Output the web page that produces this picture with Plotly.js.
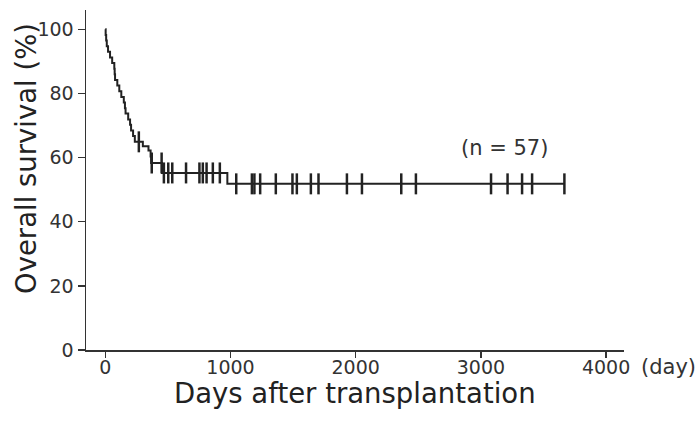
<!DOCTYPE html>
<html>
<head>
<meta charset="utf-8">
<script src="https://cdn.plot.ly/plotly-3.0.1.min.js"></script>
<style>html,body{margin:0;padding:0;background:#fff;}#chart{width:699px;height:435px;}</style>
</head>
<body>
<div id="chart"></div>
<script>
// Kaplan-Meier step curve (days after transplantation, overall survival %)
var stepDays = [0, 3, 7, 12, 22, 38, 55, 72, 75, 78, 96, 112, 128, 148, 157, 162, 183, 198, 206, 222, 236, 300, 345, 362, 366, 453, 975, 3667];
var stepSurv = [100, 98.2, 96.5, 94.7, 93.0, 91.2, 89.5, 87.7, 86.0, 84.2, 82.5, 80.7, 78.9, 77.2, 75.4, 73.7, 71.9, 70.2, 68.4, 66.7, 64.9, 63.5, 62.2, 60.3, 58.3, 55.2, 51.8, 51.8];

// Censored observations (tick marks)
var censorDays = [268, 371, 450, 468, 503, 535, 645, 752, 779, 809, 859, 915,
                  1046, 1171, 1191, 1237, 1362, 1495, 1530, 1642, 1703, 1930, 2050, 2364, 2481,
                  3081, 3213, 3329, 3409, 3667];
var censorSurv = [64.9, 58.3, 58.3, 55.2, 55.2, 55.2, 55.2, 55.2, 55.2, 55.2, 55.2, 55.2,
                  51.8, 51.8, 51.8, 51.8, 51.8, 51.8, 51.8, 51.8, 51.8, 51.8, 51.8, 51.8, 51.8,
                  51.8, 51.8, 51.8, 51.8, 51.8];

var xTicks = [0, 1000, 2000, 3000, 4000];
var yTicks = [0, 20, 40, 60, 80, 100];

var ink = '#222222';
var fontFam = '"DejaVu Sans", Verdana, sans-serif';

var traces = [
  {x: stepDays, y: stepSurv, type: 'scatter', mode: 'lines',
   line: {shape: 'hv', color: ink, width: 2}, hoverinfo: 'skip', showlegend: false},
  {x: censorDays, y: censorSurv, type: 'scatter', mode: 'markers',
   marker: {symbol: 'line-ns', size: 15, color: ink, line: {color: ink, width: 2.5}},
   hoverinfo: 'skip', showlegend: false}
];

var layout = {
  width: 699, height: 435,
  margin: {l: 86, r: 75, t: 10, b: 85},
  paper_bgcolor: '#ffffff', plot_bgcolor: '#ffffff',
  font: {family: fontFam, color: '#333333', size: 19},
  xaxis: {
    range: [-154, 4143], tickvals: xTicks, ticktext: xTicks.map(String),
    ticks: 'outside', ticklen: 6, tickwidth: 1.3, tickcolor: '#333',
    ticklabelstandoff: -6,
    showline: true, linecolor: '#333', linewidth: 1.5,
    showgrid: false, zeroline: false,
    tickfont: {size: 19, color: '#333', family: fontFam}
  },
  yaxis: {
    range: [0, 106], tickvals: yTicks, ticktext: yTicks.map(String),
    ticks: 'outside', ticklen: 7, tickwidth: 1.3, tickcolor: '#333',
    showline: true, linecolor: '#333', linewidth: 1.5,
    showgrid: false, zeroline: false,
    tickfont: {size: 19, color: '#333', family: fontFam}
  },
  annotations: [
    {text: '(n = 57)', xref: 'paper', yref: 'paper', x: (504 - 86) / 538, y: (350 - 148) / 340,
     xanchor: 'center', yanchor: 'middle', showarrow: false,
     font: {size: 21, color: '#333', family: fontFam}},
    {text: '(day)', xref: 'paper', yref: 'paper', x: (668 - 86) / 538, y: (350 - 367) / 340,
     xanchor: 'center', yanchor: 'middle', showarrow: false,
     font: {size: 21, color: '#333', family: fontFam}},
    {text: 'Days after transplantation', xref: 'paper', yref: 'paper', x: 0.5, y: (350 - 393) / 340,
     xanchor: 'center', yanchor: 'middle', showarrow: false,
     font: {size: 27.5, color: '#222', family: fontFam}},
    {text: 'Overall survival (%)', xref: 'paper', yref: 'paper', x: (26 - 86) / 538, y: (350 - 159) / 340,
     xanchor: 'center', yanchor: 'middle', showarrow: false, textangle: -90,
     font: {size: 27.5, color: '#222', family: fontFam}}
  ]
};

Plotly.newPlot('chart', traces, layout, {staticPlot: true, displayModeBar: false});
</script>
</body>
</html>
